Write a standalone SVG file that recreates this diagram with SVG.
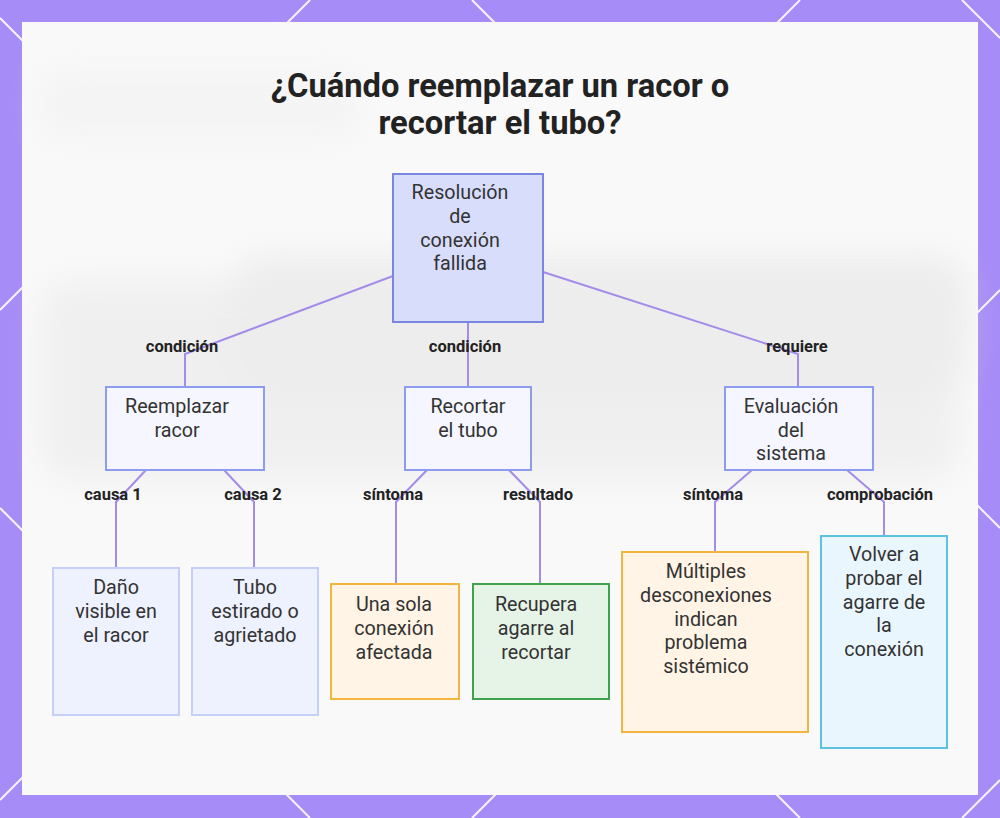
<svg xmlns="http://www.w3.org/2000/svg" width="1000" height="818" viewBox="0 0 1000 818">
<defs>
<style>
.node text{font-family:Roboto,"Liberation Sans",sans-serif;font-size:19.7px;fill:#333;text-anchor:middle}
.lbl{font-family:Roboto,"Liberation Sans",sans-serif;font-size:16.5px;font-weight:bold;fill:#222;text-anchor:middle}
.title{font-family:Roboto,"Liberation Sans",sans-serif;font-size:32.7px;font-weight:bold;fill:#222;text-anchor:middle}
.edge{fill:none;stroke:#a48cea;stroke-width:2}
.deco{stroke:#ffffff;stroke-width:2;opacity:0.9}
.root{fill:#d9ddfc;stroke:#7a86e0;stroke-width:2}
.mid{fill:#f5f6ff;stroke:#8c9cf0;stroke-width:2}
.lb{fill:#eef1fe;stroke:#c5cff8;stroke-width:2}
.or{fill:#fff4e5;stroke:#f2b640;stroke-width:2}
.gr{fill:#e6f4e8;stroke:#3fa34d;stroke-width:2}
.cy{fill:#eaf6fe;stroke:#5bc2e2;stroke-width:2}
</style>
<filter id="blur" x="-20%" y="-20%" width="140%" height="140%"><feGaussianBlur stdDeviation="16"/></filter>
</defs>
<rect width="1000" height="818" fill="#a68cf7"/>
<g id="lattice">
<line class="deco" x1="310" y1="0" x2="0" y2="310"/>
<line class="deco" x1="800" y1="0" x2="0" y2="800"/>
<line class="deco" x1="1000" y1="290" x2="472" y2="818"/>
<line class="deco" x1="1000" y1="780" x2="962" y2="818"/>
<line class="deco" x1="0" y1="18" x2="800" y2="818"/>
<line class="deco" x1="0" y1="508" x2="310" y2="818"/>
<line class="deco" x1="472" y1="0" x2="1000" y2="528"/>
<line class="deco" x1="962" y1="0" x2="1000" y2="38"/>
</g>
<rect x="22" y="22" width="956" height="773" fill="#f9f9f9"/>
<g id="backdrop" filter="url(#blur)" opacity="0.4">
<rect x="40" y="280" width="920" height="200" rx="30" fill="#e2e2e2"/>
<rect x="230" y="255" width="740" height="140" rx="40" fill="#dcdcdc"/>
<rect x="40" y="70" width="320" height="70" rx="20" fill="#ededed"/>
</g>
<text class="title" x="500" y="97">¿Cuándo reemplazar un racor o</text>
<text class="title" x="500" y="134">recortar el tubo?</text>
<g id="connectors">
<polyline class="edge" points="393,276 185,354 185,387"/>
<polyline class="edge" points="468,322 468,387"/>
<polyline class="edge" points="543,272 798,354 798,387"/>
<polyline class="edge" points="146,470 116,502 116,568"/>
<polyline class="edge" points="224,470 254,502 254,568"/>
<polyline class="edge" points="427,470 396,502 396,584"/>
<polyline class="edge" points="509,470 540,502 540,584"/>
<polyline class="edge" points="752,470 715,502 715,552"/>
<polyline class="edge" points="847,470 884,502 884,536"/>
<text class="lbl" x="182" y="352">condición</text>
<text class="lbl" x="465" y="352">condición</text>
<text class="lbl" x="797" y="352">requiere</text>
<text class="lbl" x="113" y="500">causa 1</text>
<text class="lbl" x="253" y="500">causa 2</text>
<text class="lbl" x="393" y="500">síntoma</text>
<text class="lbl" x="538" y="500">resultado</text>
<text class="lbl" x="713" y="500">síntoma</text>
<text class="lbl" x="880" y="500">comprobación</text>
</g>
<g id="n-root" class="node">
<rect class="root" x="393" y="174" width="150" height="148"/>
<text x="460" y="199">Resolución</text>
<text x="460" y="223">de</text>
<text x="460" y="247">conexión</text>
<text x="460" y="270">fallida</text>
</g>
<g id="n-reemplazar" class="node">
<rect class="mid" x="106" y="387" width="158" height="83"/>
<text x="177" y="413">Reemplazar</text>
<text x="177" y="437">racor</text>
</g>
<g id="n-recortar" class="node">
<rect class="mid" x="405" y="387" width="126" height="83"/>
<text x="468" y="413">Recortar</text>
<text x="468" y="437">el tubo</text>
</g>
<g id="n-evaluacion" class="node">
<rect class="mid" x="725" y="387" width="148" height="83"/>
<text x="791" y="413">Evaluación</text>
<text x="791" y="437">del</text>
<text x="791" y="460">sistema</text>
</g>
<g id="n-dano" class="node">
<rect class="lb" x="53" y="568" width="126" height="147"/>
<text x="116" y="594">Daño</text>
<text x="116" y="618">visible en</text>
<text x="116" y="642">el racor</text>
</g>
<g id="n-tubo" class="node">
<rect class="lb" x="192" y="568" width="126" height="147"/>
<text x="255" y="594">Tubo</text>
<text x="255" y="618">estirado o</text>
<text x="255" y="642">agrietado</text>
</g>
<g id="n-unasola" class="node">
<rect class="or" x="331" y="584" width="128" height="115"/>
<text x="394" y="611">Una sola</text>
<text x="394" y="635">conexión</text>
<text x="394" y="659">afectada</text>
</g>
<g id="n-recupera" class="node">
<rect class="gr" x="473" y="584" width="136" height="115"/>
<text x="536" y="611">Recupera</text>
<text x="536" y="635">agarre al</text>
<text x="536" y="659">recortar</text>
</g>
<g id="n-multiples" class="node">
<rect class="or" x="622" y="552" width="186" height="180"/>
<text x="706" y="578">Múltiples</text>
<text x="706" y="602">desconexiones</text>
<text x="706" y="626">indican</text>
<text x="706" y="649">problema</text>
<text x="706" y="673">sistémico</text>
</g>
<g id="n-volver" class="node">
<rect class="cy" x="821" y="536" width="126" height="212"/>
<text x="884" y="561">Volver a</text>
<text x="884" y="585">probar el</text>
<text x="884" y="609">agarre de</text>
<text x="884" y="632">la</text>
<text x="884" y="656">conexión</text>
</g>
</svg>
